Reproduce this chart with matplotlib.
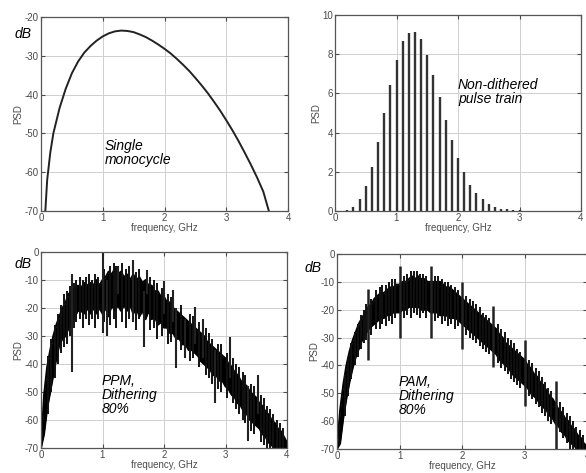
import numpy as np
from matplotlib import pyplot as plt

plt.rcParams['axes.unicode_minus'] = False
plt.rcParams['font.family'] = ['Liberation Sans', 'DejaVu Sans']

# --- top left: single monocycle (dB) ---
mono_freq = [0.07, 0.1, 0.15, 0.2, 0.3, 0.4, 0.5, 0.6, 0.7, 0.8, 0.9, 1.0, 1.1, 1.2, 1.3,
             1.4, 1.5, 1.6, 1.7, 1.8, 1.9, 2.0, 2.1, 2.2, 2.3, 2.4, 2.5, 2.6, 2.7, 2.8,
             2.9, 3.0, 3.1, 3.2, 3.3, 3.4, 3.5, 3.6, 3.69]
mono_psd = [-70, -62, -55, -50, -43.5, -38.5, -34.5, -31.5, -29.2, -27.5, -26.1, -25.0, -24.2,
            -23.7, -23.5, -23.6, -23.9, -24.5, -25.2, -26.1, -27.1, -28.2, -29.4, -30.8,
            -32.3, -33.9, -35.7, -37.6, -39.6, -41.8, -44.1, -46.6, -49.2, -52.0, -55.0,
            -58.1, -61.4, -65.0, -70]

# --- top right: non-dithered pulse train (linear) ---
line_freq = [0.1, 0.2, 0.3, 0.4, 0.5, 0.6, 0.7, 0.8, 0.9, 1.0, 1.1, 1.2, 1.3, 1.4, 1.5,
             1.6, 1.7, 1.8, 1.9, 2.0, 2.1, 2.2, 2.3, 2.4, 2.5, 2.6, 2.7, 2.8, 2.9, 3.0]
line_psd = [0.02, 0.05, 0.2, 0.6, 1.25, 2.25, 3.5, 5.0, 6.45, 7.7, 8.65, 9.1, 9.15, 8.75, 7.95,
            6.95, 5.8, 4.65, 3.6, 2.7, 2.0, 1.35, 0.9, 0.6, 0.35, 0.2, 0.12, 0.08, 0.05, 0.03]

# --- bottom: dithered spectra, band envelopes every 0.05 GHz ---
band_freq = np.round(np.arange(0, 4.001, 0.05), 2)

ppm_upper = [-70, -51, -41, -35, -30, -26, -23, -20, -18, -15, -14, -13, -12, -13, -11, -12,
             -11, -12, -10, -12, -10, -9, -7, -8, -6, -8, -7, -9, -8, -10, -8, -10, -9, -11,
             -10, -12, -12, -14, -14, -16, -16, -18, -18, -20, -21, -22, -23, -24, -25, -26,
             -27, -28, -29, -30, -32, -33, -34, -35, -36, -37, -38, -40, -41, -43, -44, -46,
             -47, -48, -50, -51, -52, -54, -55, -57, -58, -60, -61, -63, -64, -66, -68]
ppm_lower = [-70, -65, -56, -50, -44, -38, -33, -31, -30, -27, -25, -23, -21, -21, -22, -20,
             -22, -20, -22, -20, -22, -20, -23, -19, -21, -19, -21, -19, -21, -19, -22, -20,
             -23, -21, -24, -21, -24, -23, -26, -25, -27, -27, -29, -29, -31, -31, -33, -33,
             -35, -35, -36, -37, -39, -40, -41, -42, -44, -44, -46, -46, -48, -49, -51, -52,
             -54, -55, -57, -58, -60, -61, -62, -63, -65, -66, -68, -69, -70, -70, -70, -70, -70]
# strong isolated lines (freq, top, bottom)
ppm_spike_freq = [0.5, 1.0, 1.08, 1.25, 1.5, 1.67, 1.72, 2.0, 2.15, 2.2, 2.34, 2.5, 2.64,
                  2.83, 3.07, 3.37, 3.53]
ppm_spike_top = [-8, -0.5, -10, -5, -3, -14, -6.5, -10.5, -13.5, -20, -24, -19.5, -24,
                 -35, -30.5, -48, -44]
ppm_spike_bot = [-43, -29, -30, -15, -25, -34, -15, -22, -25, -41.5, -38, -33, -38,
                 -54, -45, -67.5, -58]
# fine fuzz along the band
ppm_fuzz_freq = [0.12, 0.17, 0.22, 0.27, 0.33, 0.38, 0.42, 0.47, 0.53, 0.57, 0.63, 0.68, 0.73,
                 0.78, 0.83, 0.88, 0.93, 1.03, 1.13, 1.18, 1.22, 1.32, 1.38, 1.43, 1.55, 1.6,
                 1.78, 1.83, 1.88, 1.97, 2.07, 2.12, 2.27, 2.42, 2.47, 2.57, 2.68, 2.73, 2.78,
                 2.88, 2.93, 3.03, 3.12, 3.17, 3.22, 3.28, 3.32, 3.42, 3.47, 3.58, 3.63, 3.68,
                 3.73, 3.78, 3.83, 3.88, 3.93]
ppm_fuzz_top = [-37, -31, -26, -22, -19, -15, -14, -12, -11, -10, -9, -10, -9, -8, -10, -8, -9,
                -6, -5, -4, -5, -4, -6, -5, -7, -6, -9, -10, -11, -13, -15, -16, -19, -22, -23,
                -25, -27, -29, -31, -33, -33, -36, -38, -40, -41, -43, -44, -47, -48, -51, -52,
                -55, -56, -58, -60, -61, -63]
ppm_fuzz_bot = [-58, -50, -45, -40, -36, -34, -33, -30, -27, -25, -24, -27, -24, -26, -24, -27,
                -24, -25, -26, -24, -27, -25, -27, -24, -28, -24, -28, -27, -31, -30, -33, -32,
                -35, -39, -38, -41, -44, -45, -47, -49, -50, -52, -54, -56, -58, -60, -61, -64,
                -65, -68, -69, -70, -70, -70, -70, -70, -70]

pam_upper = [-70, -56, -47, -40, -35, -31, -28, -25, -23, -21, -19, -18, -16, -15, -14, -14,
             -13, -12, -12, -11, -11, -10, -10, -9, -8, -9, -8, -9, -9, -10, -10, -10, -10,
             -10, -11, -12, -12, -13, -14, -15, -16, -17, -18, -19, -20, -21, -22, -23, -24,
             -25, -26, -27, -29, -30, -32, -33, -34, -35, -36, -37, -38, -40, -41, -43, -44,
             -46, -47, -49, -51, -52, -54, -56, -57, -59, -60, -62, -63, -65, -66, -68, -69]
pam_lower = [-70, -68, -59, -52, -46, -41, -37, -34, -31, -29, -27, -26, -25, -24, -23, -23,
             -22, -22, -21, -21, -21, -20, -20, -19, -19, -19, -19, -20, -20, -20, -21, -21,
             -21, -22, -22, -22, -23, -23, -23, -24, -25, -26, -27, -28, -29, -30, -31, -32,
             -33, -34, -35, -36, -38, -39, -40, -41, -43, -44, -45, -46, -47, -48, -50, -51,
             -52, -54, -55, -56, -58, -59, -61, -62, -64, -65, -67, -68, -69, -70, -70, -70, -70]
pam_spike_freq = [0.5, 1.0, 1.5, 2.0, 2.5, 3.0, 3.5]
pam_spike_top = [-12.6, -4.3, -4.3, -10, -18.5, -30.8, -45.6]
pam_spike_bot = [-38, -30, -30, -34, -40.5, -54.4, -70]
pam_fuzz_freq = [0.12, 0.17, 0.22, 0.28, 0.33, 0.38, 0.43, 0.47, 0.55, 0.62, 0.68, 0.72, 0.78,
                 0.83, 0.88, 0.93, 1.07, 1.12, 1.18, 1.23, 1.28, 1.33, 1.38, 1.43, 1.57, 1.62,
                 1.68, 1.73, 1.78, 1.83, 1.88, 1.93, 2.07, 2.12, 2.18, 2.23, 2.28, 2.33, 2.38,
                 2.43, 2.57, 2.63, 2.68, 2.73, 2.78, 2.83, 2.88, 2.93, 3.07, 3.12, 3.18, 3.23,
                 3.28, 3.33, 3.38, 3.43, 3.57, 3.62, 3.68, 3.73, 3.78, 3.83, 3.88, 3.93]
pam_fuzz_top = [-43, -37, -32, -28, -25, -22, -20, -18, -16, -13, -12, -11, -11, -10, -9, -9,
                -8, -7, -6, -6, -6, -7, -7, -8, -8, -8, -9, -10, -10, -11, -12, -13, -15, -16,
                -17, -18, -19, -21, -22, -23, -25, -27, -28, -30, -31, -32, -34, -35, -38, -39,
                -41, -42, -44, -46, -48, -49, -53, -55, -57, -58, -60, -62, -63, -65]
pam_fuzz_bot = [-58, -51, -45, -40, -37, -34, -32, -31, -29, -27, -27, -25, -26, -24, -25, -23,
                -23, -22, -23, -21, -22, -23, -21, -23, -24, -23, -25, -24, -26, -25, -27, -26,
                -29, -30, -31, -32, -33, -34, -35, -36, -39, -41, -42, -43, -45, -46, -47, -48,
                -51, -52, -54, -55, -57, -58, -60, -61, -64, -66, -68, -70, -70, -70, -70, -70]

fig = plt.figure(figsize=(5.86, 4.73), dpi=100)
W, H = 586.0, 473.0

def make_axes(left, top, right, bottom):
    return fig.add_axes([left / W, 1 - bottom / H, (right - left) / W, (bottom - top) / H])

ax1 = make_axes(41, 17, 288, 211)
ax2 = make_axes(335, 15, 581, 211)
ax3 = make_axes(41, 252, 287, 448)
ax4 = make_axes(337, 254, 587, 449)

tick_col = '#4a4a4a'
for ax in [ax1, ax2, ax3, ax4]:
    ax.set_xlim(0, 4)
    ax.set_xticks([0, 1, 2, 3, 4])
    ax.grid(True, color='#cfcfcf', lw=0.7)
    ax.set_axisbelow(True)
    ax.tick_params(direction='in', length=3, labelsize=7, colors=tick_col,
                   top=True, right=True, pad=1.5)
    for sp in ax.spines.values():
        sp.set_color('#555555')
        sp.set_linewidth(0.9)
    ax.set_xlabel('frequency, GHz', fontsize=7, color=tick_col, labelpad=0)
    ax.set_ylabel('PSD', fontsize=7, color=tick_col, labelpad=1)

ax1.set_ylim(-70, -20)
ax1.set_yticks([-70, -60, -50, -40, -30, -20])
for ax in [ax3, ax4]:
    ax.set_ylim(-70, 0)
    ax.set_yticks([-70, -60, -50, -40, -30, -20, -10, 0])
ax2.set_ylim(0, 10)
ax2.set_yticks([0, 2, 4, 6, 8, 10])

ax1.plot(mono_freq, mono_psd, color='#222222', lw=1.4)
ax2.vlines(line_freq, 0, line_psd, color='#333333', lw=1.7)

# dithered spectra: filled band, rough edges, then the stronger lines
ax3.fill_between(band_freq, ppm_lower, ppm_upper, color='black', lw=0)
ax3.plot(band_freq, ppm_upper, color='black', lw=1.4)
ax3.plot(band_freq, ppm_lower, color='black', lw=1.4)
ax3.vlines(ppm_fuzz_freq, ppm_fuzz_bot, ppm_fuzz_top, color='#111111', lw=1.4)
ax3.vlines(ppm_spike_freq, ppm_spike_bot, ppm_spike_top, color='#222222', lw=1.5)

ax4.fill_between(band_freq, pam_lower, pam_upper, color='black', lw=0)
ax4.plot(band_freq, pam_upper, color='black', lw=1.4)
ax4.plot(band_freq, pam_lower, color='black', lw=1.4)
ax4.vlines(pam_fuzz_freq, pam_fuzz_bot, pam_fuzz_top, color='#111111', lw=1.4)
ax4.vlines(pam_spike_freq, pam_spike_bot, pam_spike_top, color='#222222', lw=1.8)

lab = dict(style='italic', fontsize=10, color='black')
fig.text(15 / W, 1 - 38 / H, 'dB', **lab)
fig.text(15 / W, 1 - 268 / H, 'dB', **lab)
fig.text(305 / W, 1 - 272 / H, 'dB', **lab)
ax1.text(1.03, -51.5, 'Single\nmonocycle', va='top', linespacing=1.0, **lab)
ax2.text(2.0, 6.8, 'Non-dithered\npulse train', va='top', linespacing=1.0, **lab)
ax3.text(0.99, -43.5, 'PPM,\nDithering\n80%', va='top', linespacing=1.0, **lab)
ax4.text(0.98, -43.5, 'PAM,\nDithering\n80%', va='top', linespacing=1.0, **lab)

fig.savefig('out.png', dpi=100)
